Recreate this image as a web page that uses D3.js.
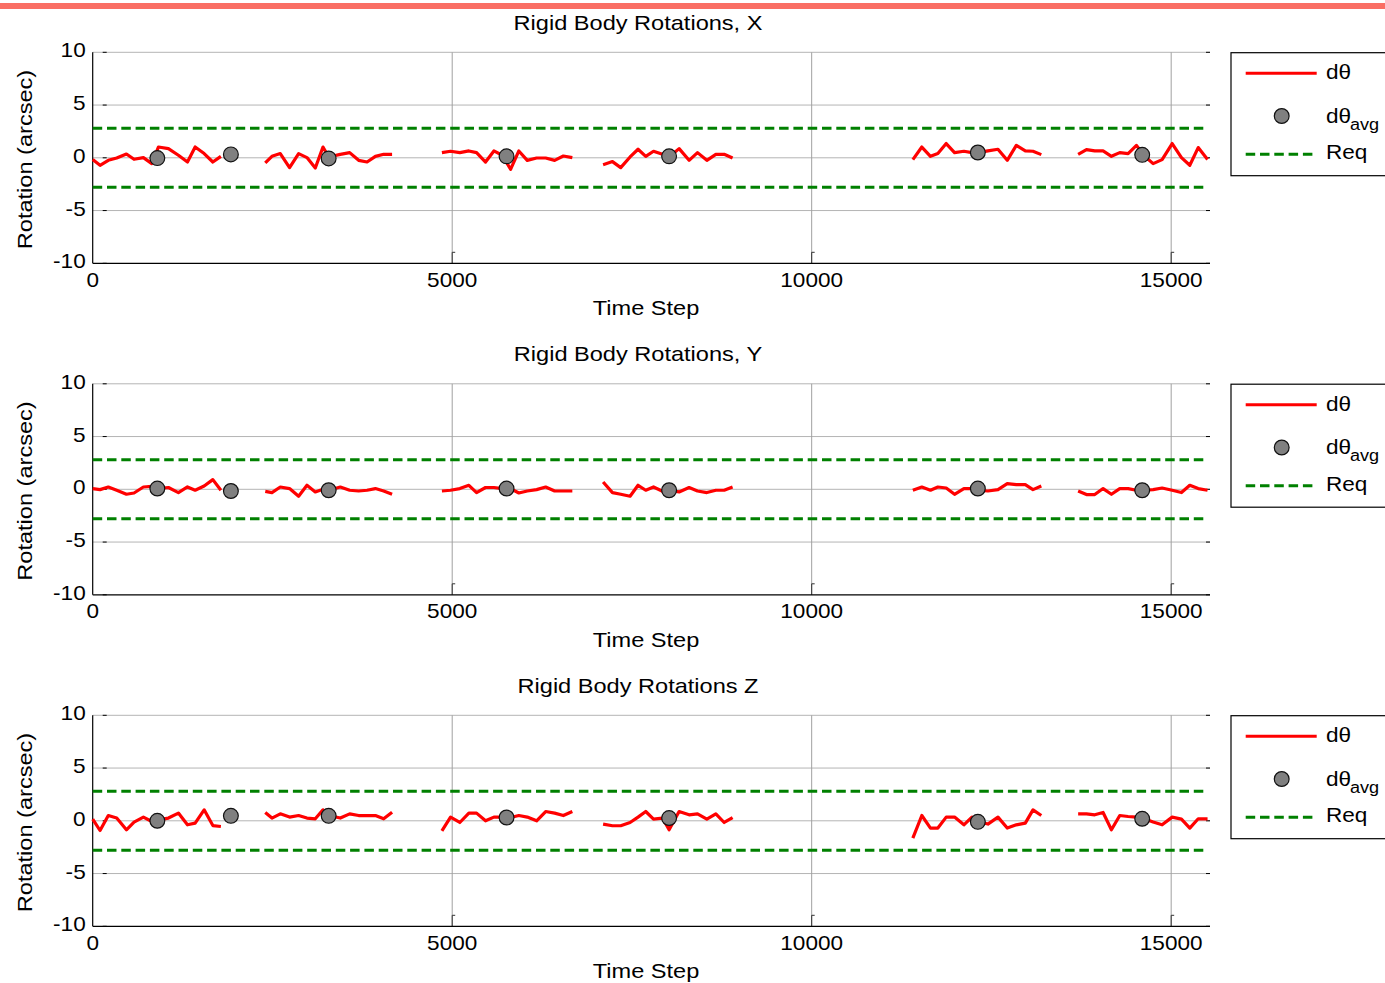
<!DOCTYPE html>
<html>
<head>
<meta charset="utf-8">
<script src="https://cdn.jsdelivr.net/npm/d3@7"></script>
<style>
  body { margin: 0; background: #fff; }
  svg { display: block; }
  text { font-family: "Liberation Sans", Arial, sans-serif; fill: #000; }
</style>
</head>
<body>
<div class="plot"></div>
<script>
// time steps of each block of samples (shared by the three panels)
const segTimes = [
    [0, 102, 217, 334, 469, 575, 705, 822, 914, 1053, 1192, 1318, 1425, 1550, 1671, 1783],
    [2400, 2493, 2609, 2738, 2864, 2980, 3096, 3203, 3282, 3444, 3574, 3699, 3816, 3932, 4047, 4164],
    [4857, 4977, 5106, 5232, 5339, 5464, 5580, 5696, 5812, 5927, 6044, 6174, 6300, 6425, 6546, 6671],
    [7099, 7229, 7344, 7474, 7585, 7692, 7800, 7925, 8017, 8156, 8295, 8412, 8542, 8667, 8783, 8900],
    [11407, 11532, 11652, 11755, 11871, 11987, 12117, 12229, 12312, 12451, 12591, 12720, 12846, 12971, 13078, 13194],
    [13706, 13822, 13937, 14053, 14169, 14285, 14401, 14517, 14628, 14749, 14874, 15014, 15143, 15259, 15376, 15506]
];

// d-theta per block, arcsec
const rotX = [
    [-0.17, -0.71, -0.24, -0.02, 0.36, -0.14, 0.02, -0.55, 1.02, 0.87, 0.24, -0.40, 1.02, 0.40, -0.40, 0.14],
    [-0.49, 0.14, 0.40, -0.93, 0.40, 0.02, -0.97, 1.02, 0.08, 0.33, 0.49, -0.24, -0.40, 0.14, 0.33, 0.33],
    [0.49, 0.62, 0.49, 0.65, 0.49, -0.40, 0.65, 0.24, -1.09, 0.65, -0.24, -0.02, -0.02, -0.24, 0.17, 0.02],
    [-0.65, -0.36, -0.93, 0.08, 0.81, 0.14, 0.62, 0.33, 0.08, 0.87, -0.24, 0.49, -0.24, 0.33, 0.33, -0.02],
    [-0.17, 1.02, 0.14, 0.40, 1.35, 0.49, 0.62, 0.49, 0.49, 0.65, 0.81, -0.24, 1.18, 0.65, 0.62, 0.30],
    [0.33, 0.78, 0.65, 0.65, 0.14, 0.49, 0.40, 1.18, 0.17, -0.55, -0.17, 1.35, 0.02, -0.71, 0.97, -0.17]
];
const rotY = [
    [0.07, -0.03, 0.22, -0.09, -0.47, -0.35, 0.22, 0.28, 0.07, 0.17, -0.31, 0.22, -0.09, 0.31, 0.92, -0.09],
    [-0.19, -0.31, 0.22, 0.07, -0.66, 0.38, -0.25, 0.00, -0.09, 0.22, -0.09, -0.16, -0.09, 0.07, -0.16, -0.47],
    [-0.16, -0.09, 0.07, 0.38, -0.31, 0.17, 0.17, 0.07, 0.07, -0.35, -0.16, -0.03, 0.22, -0.16, -0.16, -0.16],
    [0.69, -0.31, -0.47, -0.66, 0.38, -0.09, 0.22, -0.19, -0.09, -0.25, 0.17, -0.16, -0.31, -0.09, -0.09, 0.22],
    [-0.09, 0.22, -0.09, 0.22, 0.12, -0.47, 0.07, 0.07, -0.09, -0.16, -0.03, 0.54, 0.44, 0.44, -0.03, 0.31],
    [-0.16, -0.50, -0.50, 0.07, -0.47, 0.07, 0.07, -0.09, -0.09, -0.03, 0.12, -0.09, -0.31, 0.38, 0.07, -0.09]
];
const rotZ = [
    [0.16, -0.92, 0.50, 0.26, -0.85, -0.12, 0.35, -0.07, 0.09, 0.26, 0.73, -0.38, -0.22, 1.04, -0.45, -0.54],
    [0.79, 0.26, 0.66, 0.35, 0.50, 0.26, 0.19, 1.04, 0.50, 0.26, 0.66, 0.50, 0.50, 0.50, 0.19, 0.82],
    [-0.95, 0.35, -0.16, 0.73, 0.73, 0.00, 0.35, 0.35, 0.31, 0.50, 0.35, 0.00, 0.88, 0.73, 0.50, 0.88],
    [-0.31, -0.47, -0.47, -0.16, 0.35, 0.88, 0.16, 0.26, -0.85, 0.88, 0.57, 0.66, 0.16, 0.66, -0.16, 0.31],
    [-1.64, 0.50, -0.69, -0.69, 0.35, 0.35, -0.38, 0.35, -0.06, -0.31, 0.35, -0.69, -0.38, -0.22, 1.04, 0.50],
    [0.66, 0.66, 0.57, 0.79, -0.85, 0.50, 0.41, 0.35, 0.19, -0.12, -0.38, 0.35, 0.16, -0.69, 0.19, 0.19]
];

// averages
const avgTimes = [899, 1922, 3282, 5756, 8017, 12311, 14597];
const avgX = [-0.03, 0.32, -0.06, 0.14, 0.14, 0.50, 0.28];
const avgY = [0.07, -0.16, -0.09, 0.07, -0.09, 0.07, -0.09];
const avgZ = [0.00, 0.47, 0.47, 0.31, 0.26, -0.10, 0.19];

const reqLimit = 2.8;
const titles = ['Rigid Body Rotations, X', 'Rigid Body Rotations, Y', 'Rigid Body Rotations Z'];
const xTicks = [0, 5000, 10000, 15000];
const yTicks = [-10, -5, 0, 5, 10];

const W = 1385, H = 983;
const left = 92.7, right = 1210, plotH = 211;
const panelTops = [52.3, 383.8, 715.3];
const red = '#ff0000', green = '#008000', gray = '#808080';

const svg = d3.select('.plot')
    .append('svg')
    .attr('width', W)
    .attr('height', H);

svg.append('rect')
    .attr('x', 0).attr('y', 3)
    .attr('width', W).attr('height', 6)
    .attr('fill', '#fa6e64');

const xScale = d3.scaleLinear()
    .domain([0, 15540])
    .range([left, right]);

// glyphs in the picture are a bit wider than Liberation Sans, so stretch them
const label = (g, x, y, str, size, anchor, rot, sx) => g.append('text')
    .attr('transform', `translate(${x},${y}) rotate(${rot || 0}) scale(${sx || 1.13},1)`)
    .attr('font-size', size + 'px')
    .attr('text-anchor', anchor || 'middle')
    .text(str);

const drawPanel = (top, title, rot, avg) => {
    const g = svg.append('g');
    const yScale = d3.scaleLinear()
        .domain([-10, 10])
        .range([top + plotH, top]);

    // grid
    g.selectAll('.hgrid')
        .data(yTicks.filter(d => d > -10))
        .enter()
        .append('line')
        .attr('x1', left).attr('x2', right)
        .attr('y1', d => yScale(d)).attr('y2', d => yScale(d))
        .attr('stroke', '#b4b4b4').attr('stroke-width', 1);
    g.selectAll('.vgrid')
        .data(xTicks.filter(d => d > 0))
        .enter()
        .append('line')
        .attr('x1', d => xScale(d)).attr('x2', d => xScale(d))
        .attr('y1', top).attr('y2', top + plotH)
        .attr('stroke', '#a0a0a0').attr('stroke-width', 1);

    // small inward ticks
    yTicks.forEach(d => {
        g.append('line')
            .attr('x1', left + 10).attr('x2', left + 14)
            .attr('y1', yScale(d)).attr('y2', yScale(d))
            .attr('stroke', '#000');
        g.append('line')
            .attr('x1', right - 4).attr('x2', right)
            .attr('y1', yScale(d)).attr('y2', yScale(d))
            .attr('stroke', '#000');
    });
    xTicks.filter(d => d > 0).forEach(d => {
        g.append('path')
            .attr('d', `M${xScale(d)},${top + plotH}V${top + plotH - 11}h3`)
            .attr('fill', 'none')
            .attr('stroke', '#333');
    });

    // axis lines
    g.append('line')
        .attr('x1', left).attr('x2', left)
        .attr('y1', top).attr('y2', top + plotH)
        .attr('stroke', '#000').attr('stroke-width', 1.2);
    g.append('line')
        .attr('x1', left).attr('x2', right)
        .attr('y1', top + plotH).attr('y2', top + plotH)
        .attr('stroke', '#000').attr('stroke-width', 1.2);

    // tick labels
    yTicks.forEach(d => label(g, left - 7, yScale(d) + 5, d, 20, 'end'));
    xTicks.forEach(d => label(g, xScale(d), top + plotH + 23.4, d, 20, 'middle'));

    // requirement lines
    [reqLimit, -reqLimit].forEach(v => {
        g.append('line')
            .attr('x1', xScale(0)).attr('x2', xScale(15460))
            .attr('y1', yScale(v)).attr('y2', yScale(v))
            .attr('stroke', green)
            .attr('stroke-width', 3)
            .attr('stroke-dasharray', '9.5,4.8');
    });

    // d-theta
    const line = d3.line()
        .x(d => xScale(d[0]))
        .y(d => yScale(d[1]));
    rot.forEach((vals, i) => {
        g.append('path')
            .datum(vals.map((v, j) => [segTimes[i][j], v]))
            .attr('d', line)
            .attr('fill', 'none')
            .attr('stroke', red)
            .attr('stroke-width', 3.2)
            .attr('stroke-linejoin', 'round');
    });

    // averages
    g.selectAll('circle')
        .data(avg)
        .enter()
        .append('circle')
        .attr('cx', (d, i) => xScale(avgTimes[i]))
        .attr('cy', d => yScale(d))
        .attr('r', 7.4)
        .attr('fill', gray)
        .attr('stroke', '#111')
        .attr('stroke-width', 1.2);

    // titles
    label(g, 638, top - 22.8, title, 20.5, 'middle', 0, 1.15);
    label(g, 646, top + 262.7, 'Time Step', 20.5, 'middle', 0, 1.15);
    label(g, 31.7, top + 107.2, 'Rotation (arcsec)', 20.5, 'middle', -90, 1.15);

    // legend
    const lg = g.append('g');
    lg.append('rect')
        .attr('x', 1231).attr('y', top + 0.4)
        .attr('width', 170).attr('height', 123)
        .attr('fill', '#fff')
        .attr('stroke', '#000')
        .attr('stroke-width', 1.2);
    lg.append('line')
        .attr('x1', 1245.7).attr('x2', 1316.7)
        .attr('y1', top + 21).attr('y2', top + 21)
        .attr('stroke', red).attr('stroke-width', 3);
    lg.append('circle')
        .attr('cx', 1281.7).attr('cy', top + 63.7)
        .attr('r', 7.4)
        .attr('fill', gray).attr('stroke', '#111').attr('stroke-width', 1.2);
    lg.append('line')
        .attr('x1', 1245.7).attr('x2', 1316.7)
        .attr('y1', top + 102).attr('y2', top + 102)
        .attr('stroke', green).attr('stroke-width', 3)
        .attr('stroke-dasharray', '9.5,4.8');
    label(lg, 1326, top + 27, 'dθ', 20, 'start');
    label(lg, 1326, top + 70.4, 'dθ', 20, 'start');
    label(lg, 1350, top + 77.5, 'avg', 16, 'start');
    label(lg, 1326, top + 107, 'Req', 20, 'start');
};

drawPanel(panelTops[0], titles[0], rotX, avgX);
drawPanel(panelTops[1], titles[1], rotY, avgY);
drawPanel(panelTops[2], titles[2], rotZ, avgZ);
</script>
</body>
</html>
